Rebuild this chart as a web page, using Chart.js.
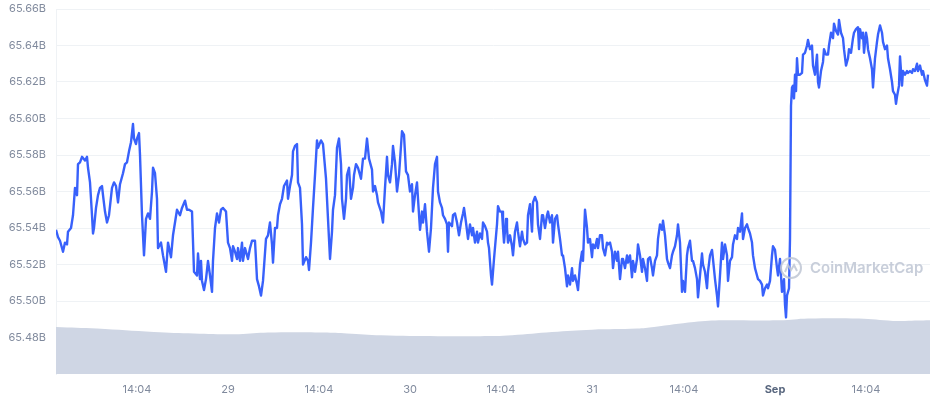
<!DOCTYPE html>
<html><head><meta charset="utf-8">
<script src="https://cdn.jsdelivr.net/npm/chart.js@4.4.0/dist/chart.umd.min.js"></script>
<style>html,body{margin:0;padding:0;background:#fff;}#wrap{width:930px;height:400px;position:relative;}</style>
</head><body><div id="wrap"><canvas id="c" width="930" height="400"></canvas></div>
<script>
// time index (sample position along the period) and market cap in millions USD
const lineT = [0,2,4,7,9,11,12,15,17,19,21,22,24,26,29,31,32,34,36,37,38,40,42,44,46,47,49,51,53,56,58,60,62,64,67,69,71,73,75,77,78,80,81,83,84,86,88,90,92,94,96,97,99,101,102,105,107,110,112,115,117,119,121,124,126,129,131,133,136,138,141,
142,144,145,146,148,150,152,154,156,157,159,161,163,165,167,170,172,174,176,177,179,181,182,184,186,187,189,192,194,196,199,201,203,205,207,210,212,214,216,217,219,221,222,224,226,228,231,232,234,236,237,239,241,242,244,246,247,250,252,253,255,257,259,261,262,265,267,270,272,274,276,277,279,281,283,
285,286,288,290,291,293,295,297,298,300,302,305,307,309,311,313,316,317,319,321,322,325,327,329,331,332,334,336,337,339,341,343,346,348,350,352,354,356,357,359,361,362,364,366,367,369,371,373,375,377,379,381,382,384,386,387,389,391,392,393,396,397,399,401,403,405,407,408,410,412,414,416,417,419,421,422,424,426,427,
429,431,432,433,435,436,438,441,442,444,446,447,448,450,451,452,454,456,457,459,461,462,464,466,467,469,471,472,474,476,477,479,481,482,484,486,487,489,491,492,494,496,497,499,501,502,504,506,507,509,511,512,514,516,517,519,521,522,524,526,527,529,531,532,534,536,537,539,541,542,544,546,547,549,551,552,554,556,557,559,561,562,564,566,567,569,571,572,574,576,577,579,581,582,584,586,587,589,591,592,594,596,597,599,601,602,604,606,607,609,611,612,614,616,617,619,621,622,624,626,627,629,631,632,634,636,637,639,641,642,644,646,647,649,651,652,654,656,657,659,661,662,664,666,667,669,671,672,674,676,677,679,681,682,684,686,687,689,691,692,694,696,697,699,701,702,704,706,707,709,711,712,714,716,717,719,721,722,724,725,726,728,729,730,731,733,734,735,736,737,738,739,740,741,742,744,746,747,749,751,752,754,756,757,759,761,762,763,765,767,768,770,772,773,775,777,778,780,782,783,785,787,788,790,792,793,795,797,798,800,802,803,804,806,807,808,810,811,812,814,816,817,819,821,822,824,826,827,829,831,832,834,836,837,839,840,841,843,844,846,847,849,851,852,854,856,857,859,861,862,864,866,867,869,871,872];
const capMillions = [65539,65535,65533,65527,65532,65531,65538,65540,65547,65562,65558,65575,65576,65579,65577,65579,65573,65565,65547,65537,65540,65551,65558,65562,65563,65558,65549,65543,65547,65562,65565,65563,65554,65564,65570,65575,65576,65582,65587,65597,65589,65586,65589,65592,65580,65547,65525,65545,65548,65545,65560,65573,65570,65556,65529,65532,65525,65516,65532,65524,65536,65543,65550,65547,65551,65555,65550,65550,65549,65516,65514,
65526,65512,65522,65511,65506,65512,65522,65514,65505,65522,65540,65548,65543,65550,65551,65549,65532,65529,65522,65530,65527,65523,65529,65522,65532,65522,65529,65523,65529,65533,65533,65512,65508,65503,65511,65534,65536,65543,65531,65521,65540,65540,65547,65553,65556,65563,65566,65556,65563,65569,65582,65585,65586,65565,65562,65542,65520,65524,65522,65517,65532,65551,65569,65588,65584,65588,65586,65567,65545,65523,65538,65550,65558,65584,65589,
65575,65556,65545,65556,65569,65573,65556,65562,65569,65575,65573,65567,65578,65578,65589,65578,65572,65560,65563,65558,65554,65549,65543,65562,65579,65569,65565,65575,65585,65576,65560,65569,65593,65591,65571,65569,65560,65564,65549,65558,65565,65556,65539,65549,65543,65553,65538,65527,65540,65562,65575,65579,65560,65554,65551,65547,65545,65542,65527,65543,65541,65547,65548,65543,65536,65543,65548,65551,65543,65534,65542,65536,65540,65532,65538,65532,65537,65534,65543,
65541,65538,65532,65529,65514,65509,65523,65542,65552,65549,65549,65540,65532,65545,65540,65532,65536,65530,65525,65538,65543,65538,65530,65538,65534,65531,65532,65547,65553,65538,65554,65557,65554,65542,65534,65547,65547,65540,65547,65549,65543,65547,65532,65545,65547,65542,65534,65525,65525,65518,65508,65514,65509,65518,65511,65514,65509,65506,65520,65527,65522,65550,65540,65532,65534,65524,65531,65529,65534,65529,65536,65536,65529,65525,65532,65531,65532,65527,65518,65527,65522,65527,65512,65523,65523,65518,65525,65521,65525,65513,65522,65516,65523,65531,65525,65516,65523,65518,65511,65523,65524,65518,65514,65522,65525,65534,65542,65539,65544,65536,65523,65521,65518,65525,65527,65530,65536,65542,65532,65505,65511,65505,65525,65529,65533,65522,65522,65518,65512,65502,65514,65526,65520,65516,65507,65516,65525,65528,65523,65512,65503,65497,65514,65532,65523,65531,65525,65511,65522,65524,65531,65536,65534,65540,65538,65548,65534,65540,65542,65540,65537,65532,65525,65518,65514,65512,65511,65509,65503,65507,65509,65507,65511,65525,65530,65528,65518,65514,65523,65514,65505,65512,65498,65491,65503,65507,65534,65607,65617,65618,65611,65624,65615,65633,65624,65624,65625,65635,65636,65640,65643,65638,65640,65629,65624,65635,65620,65617,65626,65631,65638,65635,65635,65640,65647,65644,65652,65648,65646,65654,65647,65644,65638,65629,65633,65638,65636,65644,65647,65649,65650,65638,65649,65644,65647,65636,65647,65644,65638,65633,65627,65617,65633,65642,65646,65651,65647,65642,65638,65640,65633,65627,65620,65615,65613,65608,65612,65618,65634,65618,65626,65624,65626,65625,65626,65625,65627,65626,65630,65626,65629,65624,65626,65621,65618,65624];
// background (grey) series
const areaT = [0,41,98,138,183,212,268,291,325,382,439,456,496,536,581,598,638,667,724,752,803,837,849,874];
const areaMillions = [65485.8,65484.9,65483.0,65482.2,65481.8,65482.7,65482.7,65482.2,65481.2,65480.7,65480.8,65481.2,65483.0,65484.3,65484.9,65485.8,65488.5,65489.4,65489.4,65490.4,65490.4,65489.1,65489.1,65489.4];
const xTickPos = [81,172,263,354,445,536,628,719,810];
const xTickLabels = ["14:04","29","14:04","30","14:04","31","14:04","Sep","14:04"];
const yTickValues = [65480,65500,65520,65540,65560,65580,65600,65620,65640,65660];
const yMin = 65460, yMax = 65660, xMin = 0, xMax = 874;

const linePts = lineT.map((t,i)=>({x:t,y:capMillions[i]}));
const areaPts = areaT.map((t,i)=>({x:t,y:areaMillions[i]}));

const watermark = {
  id:'watermark',
  afterDatasetsDraw(chart){
    const c = chart.ctx;
    c.save();
    c.strokeStyle = 'rgba(190,198,212,0.85)';
    c.fillStyle = 'rgba(190,198,212,0.85)';
    c.lineWidth = 2;
    const cx = 791, cy = 268, r = 10;
    c.beginPath(); c.arc(cx, cy, r, 0, Math.PI*2); c.stroke();
    c.beginPath();
    c.moveTo(cx-6, cy+4); c.lineTo(cx-3, cy-3); c.lineTo(cx, cy+2); c.lineTo(cx+3, cy-3); c.lineTo(cx+6, cy+3);
    c.stroke();
    c.font = '600 15px Inter, "Noto Sans", sans-serif';
    c.textBaseline = 'middle';
    c.fillText('CoinMarketCap', 810, 268);
    c.restore();
  }
};

new Chart(document.getElementById('c'), {
  type:'line',
  data:{datasets:[
    {data:linePts, borderColor:'#3861fb', borderWidth:2.4, pointRadius:0, tension:0, fill:false, order:0, borderJoinStyle:'round'},
    {data:areaPts, borderWidth:0, borderColor:'rgba(0,0,0,0)', backgroundColor:'#cfd6e4', pointRadius:0, tension:0.4, fill:'start', order:1}
  ]},
  options:{
    responsive:false, animation:false, devicePixelRatio:1,
    layout:{padding:{top:9,right:0,bottom:0,left:0}},
    plugins:{legend:{display:false}, tooltip:{enabled:false}},
    scales:{
      x:{type:'linear', min:xMin, max:xMax,
        grid:{display:false}, border:{display:false},
        afterBuildTicks:(s)=>{s.ticks = xTickPos.map(v=>({value:v}));},
        afterFit:(s)=>{s.height = 26; s.paddingLeft = 0; s.paddingRight = 0;},
        ticks:{autoSkip:false, maxRotation:0, padding:1,
          color:(ctx)=> xTickLabels[ctx.index]==='Sep' ? '#58667e' : '#808a9d',
          font:(ctx)=>({family:'Inter, "Noto Sans", sans-serif', size:11, weight: xTickLabels[ctx.index]==='Sep' ? 'bold' : 'normal'}),
          callback:(v,i)=>xTickLabels[i]}
      },
      y:{type:'linear', min:yMin, max:yMax, position:'left',
        grid:{color:'#eff2f5', drawTicks:false},
        border:{display:true, color:'#eff2f5'},
        afterBuildTicks:(s)=>{s.ticks = yTickValues.map(v=>({value:v}));},
        afterFit:(s)=>{s.width = 56; s.paddingTop = 0; s.paddingBottom = 0;},
        ticks:{padding:10, color:'#808a9d', font:{family:'Inter, "Noto Sans", sans-serif', size:11},
          callback:(v)=>(v/1000).toFixed(2)+'B'}
      }
    }
  },
  plugins:[watermark]
});
</script>
</body></html>
